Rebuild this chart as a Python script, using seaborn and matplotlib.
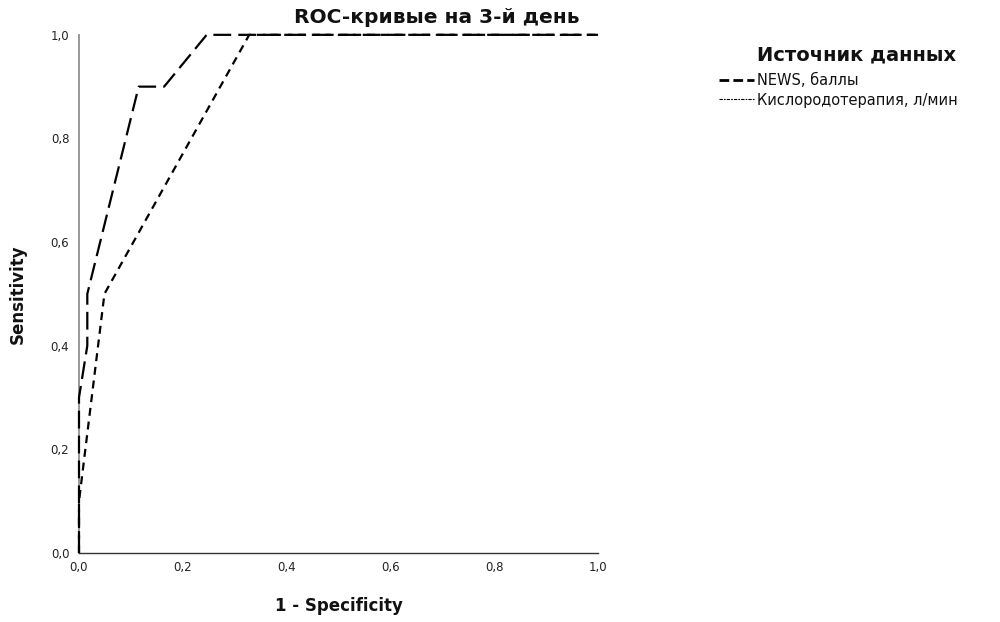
import matplotlib
matplotlib.use("Agg")
import matplotlib.pyplot as plt
from matplotlib.lines import Line2D
from matplotlib.ticker import FuncFormatter
import seaborn as sns
import pandas as pd

# ROC curve coordinates (1 - specificity, sensitivity)
news_fpr = [0.0, 0.0, 0.016, 0.016, 0.115, 0.164, 0.246, 1.0]
news_tpr = [0.0, 0.3, 0.4, 0.5, 0.9, 0.9, 1.0, 1.0]
oxy_fpr = [0.0, 0.0, 0.049, 0.328, 1.0]
oxy_tpr = [0.0, 0.1, 0.5, 1.0, 1.0]

series_names = ["NEWS, баллы", "Кислородотерапия, л/мин"]
tick_values = [0.0, 0.2, 0.4, 0.6, 0.8, 1.0]

title_text = "ROC-кривые на 3-й день"
legend_title = "Источник данных"

df = pd.concat([
    pd.DataFrame({"fpr": news_fpr, "tpr": news_tpr, "src": series_names[0]}),
    pd.DataFrame({"fpr": oxy_fpr, "tpr": oxy_tpr, "src": series_names[1]}),
], ignore_index=True)

sns.set_theme(style="white")
plt.rcParams["font.family"] = ["DejaVu Sans"]
plt.rcParams["text.color"] = "#111111"
plt.rcParams["axes.labelcolor"] = "#111111"

fig = plt.figure(figsize=(10, 6.22), dpi=100)
ax = fig.add_axes([0.079, 0.111, 0.519, 0.833])

sns.lineplot(
    data=df, x="fpr", y="tpr", hue="src", style="src",
    palette={series_names[0]: "black", series_names[1]: "black"},
    dashes={series_names[0]: (8, 3.2), series_names[1]: (3.6, 2.6)},
    sort=False, estimator=None, units="src", linewidth=1.6,
    legend=False, ax=ax,
)
for line in ax.get_lines():
    line.set_clip_on(False)
    line.set_zorder(5)

ax.set_xlim(0, 1)
ax.set_ylim(0, 1)
ax.set_xticks(tick_values)
ax.set_yticks(tick_values)
fmt = FuncFormatter(lambda v, p: f"{v:.1f}".replace(".", ","))
ax.xaxis.set_major_formatter(fmt)
ax.yaxis.set_major_formatter(fmt)
ax.tick_params(axis="both", length=0, labelsize=8.5, colors="#222222")
ax.tick_params(axis="x", pad=6)
ax.tick_params(axis="y", pad=7)

for side in ("top", "right"):
    ax.spines[side].set_visible(False)
ax.spines["left"].set_color("#999999")
ax.spines["left"].set_linewidth(1.4)
ax.spines["bottom"].set_color("#333333")
ax.spines["bottom"].set_linewidth(1.0)

ax.set_xlabel("1 - Specificity", fontsize=12, fontweight="bold", labelpad=16)
ax.set_ylabel("Sensitivity", fontsize=12, fontweight="bold", labelpad=17)
ax.text(0.965, 1.016, title_text, transform=ax.transAxes, ha="right",
        va="bottom", fontsize=14.5, fontweight="bold")

# Legend: title placed above the entry labels, entries below
fig.text(0.757, 0.912, legend_title, ha="left", va="center",
         fontsize=14, fontweight="bold")
handles = [
    Line2D([], [], color="black", linewidth=2.0, linestyle=(0, (3.5, 1.5))),
    Line2D([], [], color="black", linewidth=0.8, linestyle=(0, (3, 1, 1.5, 1))),
]
leg = fig.legend(
    handles, series_names,
    loc="upper left", bbox_to_anchor=(0.709, 0.899),
    frameon=False, fontsize=10.5, handlelength=2.4, handletextpad=0.2,
    labelspacing=0.3, borderpad=0.2,
)

fig.savefig("out.png", dpi=100)
